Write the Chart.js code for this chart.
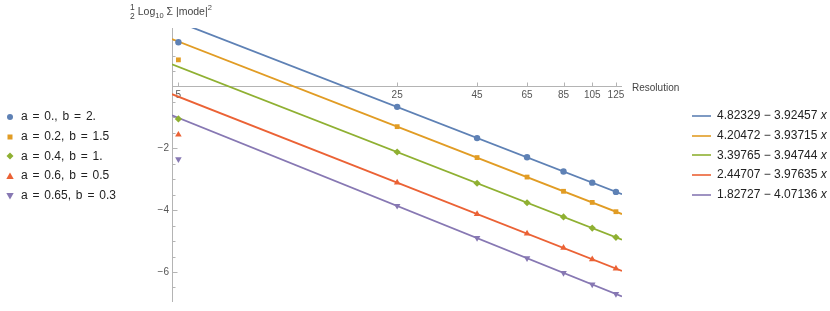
<!DOCTYPE html>
<html>
<head>
<meta charset="utf-8">
<script src="https://cdn.jsdelivr.net/npm/chart.js@4.4.1/dist/chart.umd.min.js"></script>
<style>
  body { margin: 0; background: #fff; font-family: "Liberation Sans", Arial, sans-serif; }
  #wrap { position: relative; width: 830px; height: 311px; overflow: hidden; }
  #plot { position: absolute; left: 0; top: 0; }
  #ylab { position: absolute; left: 130px; top: 3px; font-size: 10.5px; color: #444; white-space: nowrap; }
  #ylab .frac { display: inline-block; vertical-align: middle; text-align: center; font-size: 8.5px; line-height: 8.5px; margin-right: 3px; }
  #ylab .frac span { display: block; }
  #ylab sub { font-size: 7.5px; }
  #ylab sup { font-size: 7.5px; }
  #xlab { position: absolute; left: 632px; top: 82px; font-size: 10px; color: #444; }
  .legend { position: absolute; font-size: 12px; color: #222; }
  .legend .row { height: 19.8px; line-height: 19.8px; white-space: nowrap; }
  .legend svg { vertical-align: middle; }
  #legPts { left: 5px; top: 107px; word-spacing: 1.5px; }
  #legPts svg { margin-right: 6px; }
  #legFit { left: 692px; top: 106px; }
  #legFit svg { margin-right: 6px; }
</style>
</head>
<body>
<div id="wrap">
  <canvas id="plot" width="830" height="311"></canvas>
  <div id="ylab"><span class="frac"><span>1</span><span>2</span></span>Log<sub>10</sub> Σ |mode|<sup>2</sup></div>
  <div id="xlab">Resolution</div>
  <div id="legPts" class="legend"></div>
  <div id="legFit" class="legend"></div>
</div>
<script>
// datos
const resolution = [5, 25, 45, 65, 85, 105, 125];
const modeA = [1.43, -0.66, -1.67, -2.29, -2.75, -3.11, -3.41];
const modeB = [0.86, -1.30, -2.30, -2.93, -3.39, -3.75, -4.05];
const modeC = [-1.05, -2.12, -3.13, -3.76, -4.22, -4.58, -4.88];
const modeD = [-1.56, -3.11, -4.13, -4.76, -5.22, -5.59, -5.89];
const modeE = [-2.35, -3.86, -4.90, -5.55, -6.03, -6.40, -6.71];
const seriesLabels = ['a = 0., b = 2.', 'a = 0.2, b = 1.5', 'a = 0.4, b = 1.', 'a = 0.6, b = 0.5', 'a = 0.65, b = 0.3'];

// rectas de ajuste (extremos)
const fitX = [4.77, 130.7];
const fitA = [2.160, -3.482];
const fitB = [1.533, -4.127];
const fitC = [0.719, -4.956];
const fitD = [-0.251, -5.968];
const fitE = [-0.935, -6.789];
const fitLabels = ['4.82329 − 3.92457 x', '4.20472 − 3.93715 x', '3.39765 − 3.94744 x', '2.44707 − 3.97635 x', '1.82727 − 4.07136 x'];

const xTicks = [5, 25, 45, 65, 85, 105, 125];
const yTicks = [-6, -4, -2];
const yMinorTicks = [-6.5, -6, -5.5, -5, -4.5, -4, -3.5, -3, -2.5, -2, -1.5, -1, -0.5, 0.5, 1, 1.5];

const colores = ['#5e81b5', '#e19c24', '#8fb032', '#eb6235', '#8778b3'];
const estilos = ['circle', 'rect', 'rectRot', 'triangle', 'triangle'];
const rotaciones = [0, 0, 0, 0, 180];
const radios = [3.2, 3.4, 3.6, 3.8, 3.8];

const puntos = [modeA, modeB, modeC, modeD, modeE];
const ajustes = [fitA, fitB, fitC, fitD, fitE];

const datasets = [];
puntos.forEach((serie, i) => {
  datasets.push({
    label: seriesLabels[i],
    data: resolution.map((r, j) => ({ x: r, y: serie[j] })),
    showLine: false,
    pointStyle: estilos[i],
    pointRotation: rotaciones[i],
    pointRadius: radios[i],
    pointBackgroundColor: colores[i],
    pointBorderWidth: 0,
    borderColor: colores[i]
  });
});
ajustes.forEach((serie, i) => {
  datasets.push({
    label: fitLabels[i],
    data: fitX.map((r, j) => ({ x: r, y: serie[j] })),
    showLine: true,
    pointRadius: 0,
    borderColor: colores[i],
    borderWidth: 1.8
  });
});

const ejesPlugin = {
  id: 'ejes',
  beforeDatasetsDraw(chart) {
    const { ctx, chartArea: a, scales: { x, y } } = chart;
    const y0 = Math.round(y.getPixelForValue(0)) + 0.5;
    const xl = Math.round(a.left) + 0.5;
    ctx.save();
    ctx.strokeStyle = '#b4b4b4';
    ctx.lineWidth = 1;
    ctx.beginPath();
    ctx.moveTo(a.left, y0); ctx.lineTo(a.right, y0);
    ctx.moveTo(xl, a.top); ctx.lineTo(xl, a.bottom);
    xTicks.forEach(v => {
      const px = Math.round(x.getPixelForValue(v)) + 0.5;
      ctx.moveTo(px, y0); ctx.lineTo(px, y0 - 4);
    });
    yMinorTicks.forEach(v => {
      const py = Math.round(y.getPixelForValue(v)) + 0.5;
      const len = Number.isInteger(v) && v % 2 === 0 ? 5 : 3;
      ctx.moveTo(xl, py); ctx.lineTo(xl + len, py);
    });
    ctx.stroke();
    ctx.restore();
  }
};

new Chart(document.getElementById('plot').getContext('2d'), {
  type: 'scatter',
  data: { datasets },
  options: {
    responsive: false,
    animation: false,
    layout: { padding: { left: 150, right: 208, top: 28, bottom: 3 } },
    plugins: { legend: { display: false }, tooltip: { enabled: false } },
    scales: {
      x: {
        type: 'logarithmic',
        position: { y: 0 },
        min: 4.77,
        max: 130.7,
        grid: { display: false, drawTicks: false },
        border: { display: false },
        afterBuildTicks: (scale) => { scale.ticks = xTicks.map(v => ({ value: v })); },
        ticks: {
          autoSkip: false, maxRotation: 0, padding: 3,
          color: '#555', font: { size: 10, family: 'Liberation Sans' },
          callback: (v) => String(v)
        }
      },
      y: {
        type: 'linear',
        position: 'left',
        min: -6.97,
        max: 1.89,
        grid: { display: false, drawTicks: false },
        border: { display: false },
        afterBuildTicks: (scale) => { scale.ticks = yTicks.map(v => ({ value: v })); },
        afterFit: (scale) => { scale.width = 22; },
        ticks: {
          padding: 3,
          color: '#555', font: { size: 10, family: 'Liberation Sans' },
          callback: (v) => (v < 0 ? '−' + Math.abs(v) : String(v))
        }
      }
    }
  },
  plugins: [ejesPlugin]
});

// leyendas en HTML
function marcador(i) {
  const c = colores[i];
  const formas = [
    `<circle cx="5" cy="5" r="3" fill="${c}"/>`,
    `<rect x="2.5" y="2.5" width="5" height="5" fill="${c}"/>`,
    `<polygon points="5,1.5 8.5,5 5,8.5 1.5,5" fill="${c}"/>`,
    `<polygon points="5,1.5 8.7,8 1.3,8" fill="${c}"/>`,
    `<polygon points="5,8.5 8.7,2 1.3,2" fill="${c}"/>`
  ];
  return `<svg width="10" height="10">${formas[i]}</svg>`;
}
document.getElementById('legPts').innerHTML = seriesLabels
  .map((t, i) => `<div class="row">${marcador(i)}${t}</div>`).join('');
document.getElementById('legFit').innerHTML = fitLabels
  .map((t, i) => `<div class="row"><svg width="19" height="4"><line x1="0" y1="2" x2="19" y2="2" stroke="${colores[i]}" stroke-width="1.6"/></svg>${t.replace(/ x$/, ' <i>x</i>')}</div>`).join('');
</script>
</body>
</html>
